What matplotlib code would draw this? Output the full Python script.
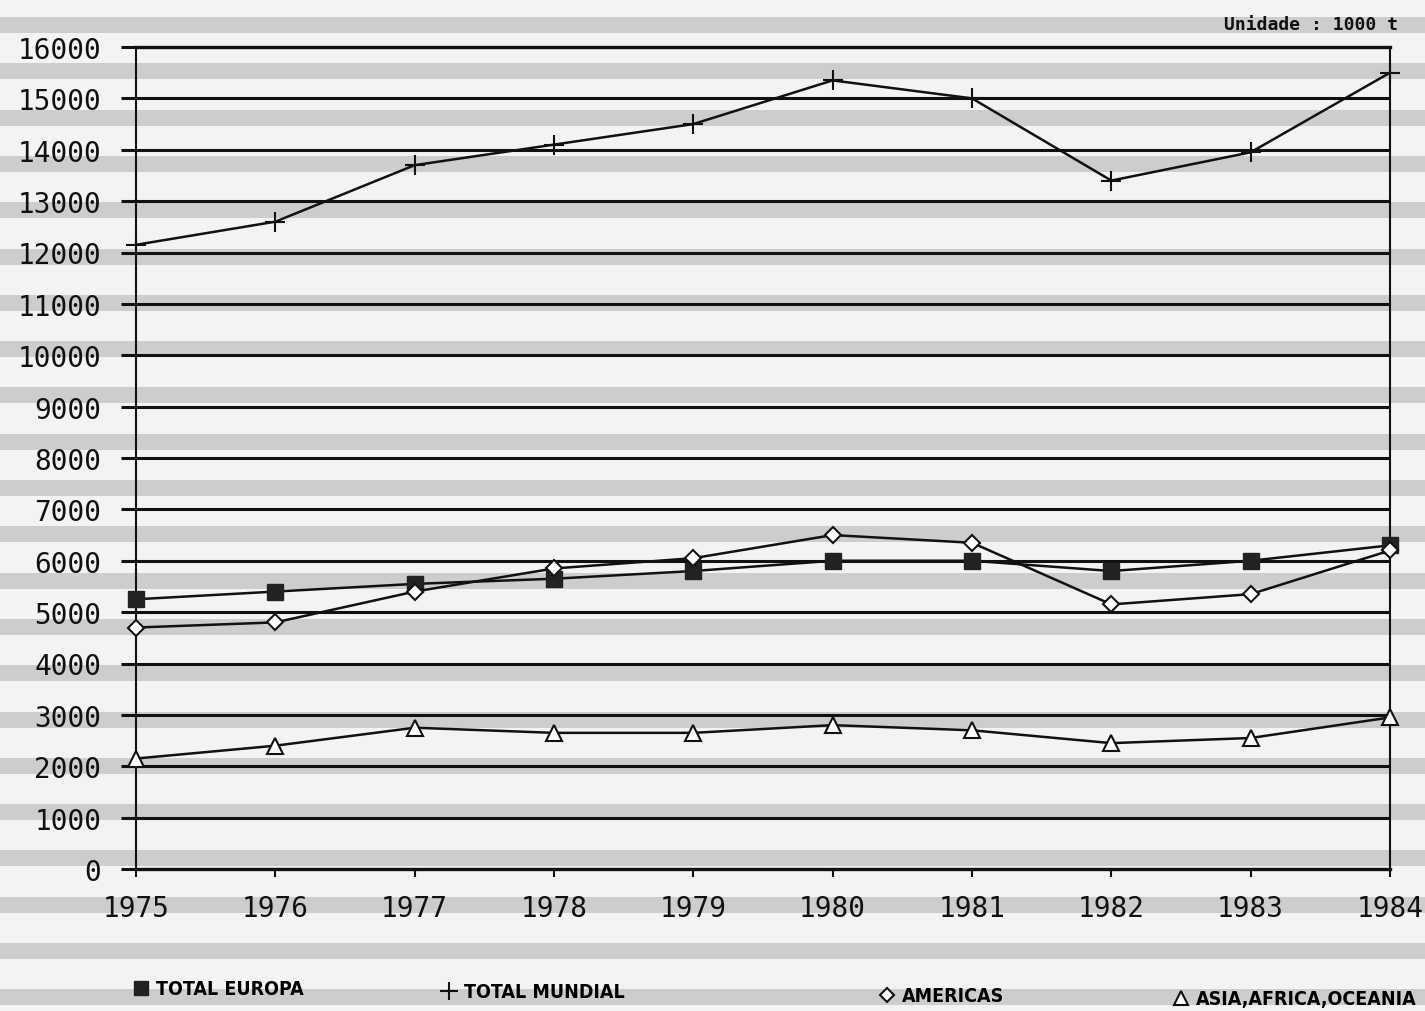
import matplotlib
matplotlib.use("Agg")
import matplotlib.pyplot as plt
from matplotlib.patches import Rectangle
from matplotlib.lines import Line2D
from matplotlib import font_manager

# ---- data ----
years = [1975, 1976, 1977, 1978, 1979, 1980, 1981, 1982, 1983, 1984]
total_europa = [5250, 5400, 5550, 5650, 5800, 6000, 6000, 5800, 6000, 6300]
total_mundial = [12150, 12600, 13700, 14100, 14500, 15350, 15000, 13400, 13950, 15500]
americas = [4700, 4800, 5400, 5850, 6050, 6500, 6350, 5150, 5350, 6200]
asia_africa_oceania = [2150, 2400, 2750, 2650, 2650, 2800, 2700, 2450, 2550, 2950]
series_labels = ["TOTAL EUROPA", "TOTAL MUNDIAL", "AMERICAS", "ASIA,AFRICA,OCEANIA"]
y_ticks = list(range(0, 16001, 1000))
unit_label = "Unidade : 1000 t"

# pick a narrow bold font for the legend if one is installed
narrow = None
for f in font_manager.fontManager.ttflist:
    nm = f.name.lower()
    is_narrow = ("narrow" in nm or "condensed" in nm or f.stretch in ("condensed", "semi-condensed"))
    if is_narrow and f.weight in ("bold", 700) and f.style == "normal":
        narrow = f.fname
        break
if narrow is None:
    for f in font_manager.fontManager.ttflist:
        nm = f.name.lower()
        if ("narrow" in nm or "condensed" in nm or f.stretch in ("condensed", "semi-condensed")) and f.style == "normal":
            narrow = f.fname
            break
if narrow is not None:
    legend_prop = font_manager.FontProperties(fname=narrow, size=14, weight="bold")
else:
    legend_prop = font_manager.FontProperties(family="Roboto", size=12, weight="bold")

mono_font = "DejaVu Sans Mono"

W, H = 1425, 1012
fig = plt.figure(figsize=(W / 100, H / 100), dpi=100, facecolor="#f3f3f3")

# paper stripes
period, start, band = 46.3, 26.0, 16.0
k = 0
while start + k * period < H + band:
    yc = start + k * period
    fig.patches.append(Rectangle((0, 1 - (yc + band / 2) / H), 1, band / H,
                                 transform=fig.transFigure, color="#cdcdcd",
                                 zorder=-10, linewidth=0))
    k += 1

ax = fig.add_axes([136 / W, 1 - 870 / H, (1390 - 136) / W, (870 - 48) / H])
ax.set_facecolor("none")
ax.set_xlim(1975, 1984)
ax.set_ylim(0, 16000)
ax.set_yticks(y_ticks)
ax.set_yticklabels([str(v) for v in y_ticks])
ax.set_xticks(years)
ax.set_xticklabels([str(y) for y in years])
ax.grid(axis="y", color="#111111", linewidth=2.2)
ax.set_axisbelow(True)

for side, lw in [("left", 1.5), ("right", 1.5), ("top", 2.4), ("bottom", 2.4)]:
    ax.spines[side].set_linewidth(lw)
    ax.spines[side].set_color("#111111")

ax.tick_params(axis="y", direction="out", length=11, width=2.2, pad=14,
               labelsize=20, colors="#111111")
ax.tick_params(axis="x", direction="out", length=6, width=1.5, pad=12,
               labelsize=20, colors="#111111")
for lab in ax.get_xticklabels() + ax.get_yticklabels():
    lab.set_fontfamily(mono_font)

line_kw = dict(color="#111111", linewidth=1.8, zorder=3, clip_on=False)
ax.plot(years, total_europa, marker="s", markersize=11, markerfacecolor="#222222",
        markeredgecolor="#222222", **line_kw)
ax.plot(years, total_mundial, marker="+", markersize=15, markeredgewidth=1.5, **line_kw)
ax.plot(years, americas, marker="D", markersize=8, markerfacecolor="white",
        markeredgecolor="#111111", markeredgewidth=1.5, **line_kw)
ax.plot(years, asia_africa_oceania, marker="^", markersize=11, markerfacecolor="white",
        markeredgecolor="#111111", markeredgewidth=1.5, **line_kw)

fig.text(1398 / W, 1 - 25 / H, unit_label, ha="right", va="center",
         fontfamily=mono_font, fontweight="bold", fontsize=13, color="#111111")

# legend (one entry per legend, placed like the original)
handles = [
    Line2D([], [], linestyle="none", marker="s", markersize=10,
           markerfacecolor="#222222", markeredgecolor="#222222"),
    Line2D([], [], linestyle="none", marker="+", markersize=13,
           markeredgewidth=1.5, color="#111111"),
    Line2D([], [], linestyle="none", marker="D", markersize=7,
           markerfacecolor="white", markeredgecolor="#111111", markeredgewidth=1.5),
    Line2D([], [], linestyle="none", marker="^", markersize=10,
           markerfacecolor="white", markeredgecolor="#111111", markeredgewidth=1.5),
]
leg_pos = [(131, 990), (439, 993), (877, 997), (1171, 1000)]
for h, lab, (px, py) in zip(handles, series_labels, leg_pos):
    fig.legend([h], [lab], loc="center left", bbox_to_anchor=(px / W, 1 - py / H),
               frameon=False, borderpad=0, borderaxespad=0, handlelength=1.0,
               handletextpad=0.3, prop=legend_prop)

fig.savefig("out.png", dpi=100, facecolor=fig.get_facecolor())
